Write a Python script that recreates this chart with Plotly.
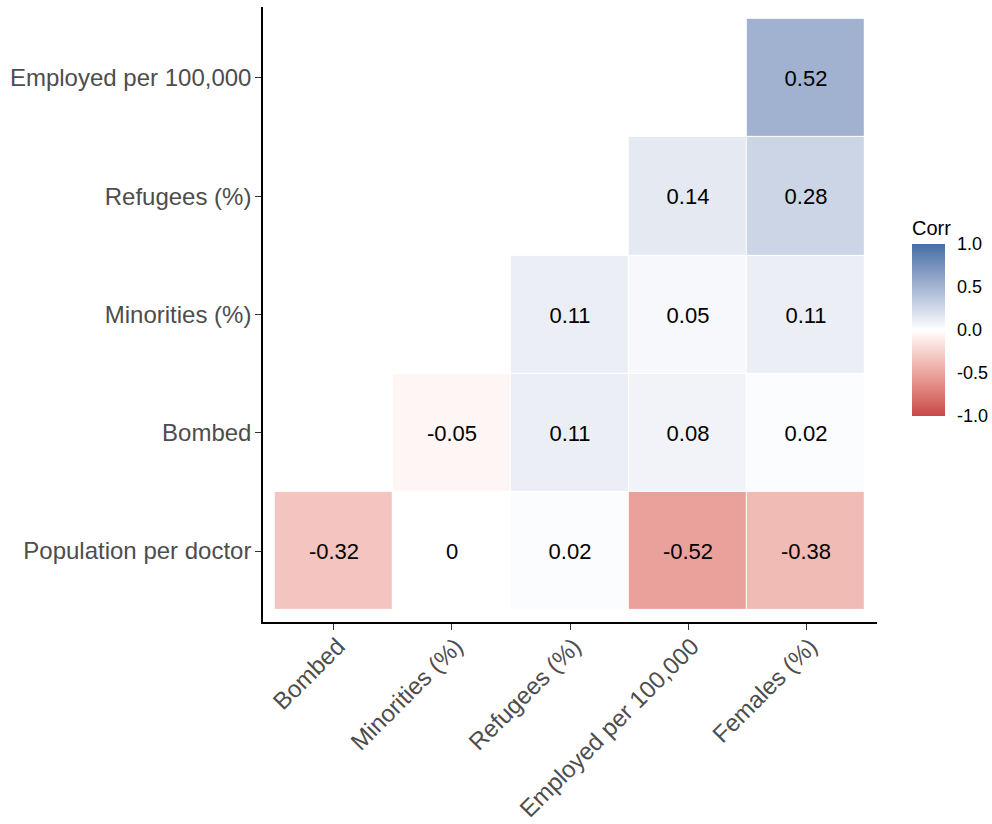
import plotly.graph_objects as go
import numpy as np

# Variables along each axis (lower-triangle correlation layout)
x_vars = ["Bombed", "Minorities (%)", "Refugees (%)", "Employed per 100,000", "Females (%)"]
y_vars = ["Population per doctor", "Bombed", "Minorities (%)", "Refugees (%)", "Employed per 100,000"]

# Correlations, one list per row (bottom row first); None = not shown
row_pop_doctor = [-0.32, 0.00, 0.02, -0.52, -0.38]
row_bombed = [None, -0.05, 0.11, 0.08, 0.02]
row_minorities = [None, None, 0.11, 0.05, 0.11]
row_refugees = [None, None, None, 0.14, 0.28]
row_employed = [None, None, None, None, 0.52]

corr = [row_pop_doctor, row_bombed, row_minorities, row_refugees, row_employed]

LOW = (198, 72, 72)
MID = (255, 255, 255)
HIGH = (66, 112, 166)


def _srgb_to_lab(c):
    rgb = np.array(c, dtype=float) / 255.0
    rgb = np.where(rgb > 0.04045, ((rgb + 0.055) / 1.055) ** 2.4, rgb / 12.92)
    m = np.array([[0.4124, 0.3576, 0.1805],
                  [0.2126, 0.7152, 0.0722],
                  [0.0193, 0.1192, 0.9505]])
    xyz = m @ rgb / np.array([0.95047, 1.0, 1.08883])
    f = np.where(xyz > 0.008856, np.cbrt(xyz), 7.787 * xyz + 16 / 116)
    return np.array([116 * f[1] - 16, 500 * (f[0] - f[1]), 200 * (f[1] - f[2])])


def _lab_to_srgb(lab):
    L, a, b = lab
    fy = (L + 16) / 116
    fx = fy + a / 500
    fz = fy - b / 200
    f = np.array([fx, fy, fz])
    xyz = np.where(f ** 3 > 0.008856, f ** 3, (f - 16 / 116) / 7.787)
    xyz = xyz * np.array([0.95047, 1.0, 1.08883])
    minv = np.array([[3.2406, -1.5372, -0.4986],
                     [-0.9689, 1.8758, 0.0415],
                     [0.0557, -0.2040, 1.0570]])
    rgb = minv @ xyz
    rgb = np.where(rgb > 0.0031308, 1.055 * np.clip(rgb, 0, None) ** (1 / 2.4) - 0.055, 12.92 * rgb)
    rgb = np.clip(rgb, 0, 1) * 255
    return "rgb({:.0f},{:.0f},{:.0f})".format(*rgb)


def diverging_scale(n=21):
    """White-centred diverging scale, blended in CIELAB."""
    lo, mi, hi = _srgb_to_lab(LOW), _srgb_to_lab(MID), _srgb_to_lab(HIGH)
    stops = []
    for t in np.linspace(0, 1, n):
        if t <= 0.5:
            s = t / 0.5
            lab = lo + (mi - lo) * s
        else:
            s = (t - 0.5) / 0.5
            lab = mi + (hi - mi) * s
        stops.append([float(t), _lab_to_srgb(lab)])
    return stops


labels = [["" if v is None else f"{v:g}" for v in row] for row in corr]

W, H = 992, 824
L_M, R_M, T_M, B_M = 263, 115, 7, 202
plot_w = W - L_M - R_M
plot_h = H - T_M - B_M

FONT = "Liberation Sans, Arial"
BAR_BOTTOM_PX = 416
BAR_HEIGHT_PX = 172
TITLE_PX = 27

fig = go.Figure(
    go.Heatmap(
        z=corr,
        x=x_vars,
        y=y_vars,
        text=labels,
        texttemplate="%{text}",
        textfont=dict(family=FONT, size=22, color="black"),
        zmin=-1,
        zmax=1,
        colorscale=diverging_scale(),
        xgap=1,
        ygap=1,
        hoverongaps=False,
        colorbar=dict(
            title=dict(text="Corr", side="top",
                       font=dict(family=FONT, size=20, color="black")),
            thickness=33,
            thicknessmode="pixels",
            len=BAR_HEIGHT_PX + TITLE_PX,
            lenmode="pixels",
            x=(912 - L_M) / plot_w,
            xanchor="left",
            xpad=0,
            y=(H - B_M - BAR_BOTTOM_PX) / plot_h,
            yanchor="bottom",
            ypad=0,
            outlinewidth=0,
            tickvals=[-1, -0.5, 0, 0.5, 1],
            ticktext=["-1.0", "-0.5", "0.0", "0.5", "1.0"],
            ticks="outside",
            ticklen=9,
            tickcolor="rgba(0,0,0,0)",
            tickfont=dict(family=FONT, size=18, color="black"),
        ),
    )
)

axis_font = dict(family=FONT, size=24, color="#4D4D4D")

fig.update_xaxes(
    categoryorder="array",
    categoryarray=x_vars,
    range=[-0.6, 4.6],
    automargin=False,
    showline=True,
    linecolor="black",
    linewidth=1.5,
    ticks="outside",
    ticklen=6,
    tickcolor="#333333",
    tickangle=-45,
    tickfont=axis_font,
    ticklabelstandoff=-7,
    ticklabelshift=4,
    showgrid=False,
    zeroline=False,
)
fig.update_yaxes(
    categoryorder="array",
    categoryarray=y_vars,
    range=[-0.6, 4.6],
    automargin=False,
    showline=True,
    linecolor="black",
    linewidth=1.5,
    ticks="outside",
    ticklen=6,
    tickcolor="#333333",
    tickfont=axis_font,
    ticklabelstandoff=-1,
    showgrid=False,
    zeroline=False,
)

fig.update_layout(
    width=W,
    height=H,
    margin=dict(l=L_M, r=R_M, t=T_M, b=B_M, autoexpand=False),
    plot_bgcolor="white",
    paper_bgcolor="white",
    font=dict(family=FONT),
)

fig.write_html("out.html")
